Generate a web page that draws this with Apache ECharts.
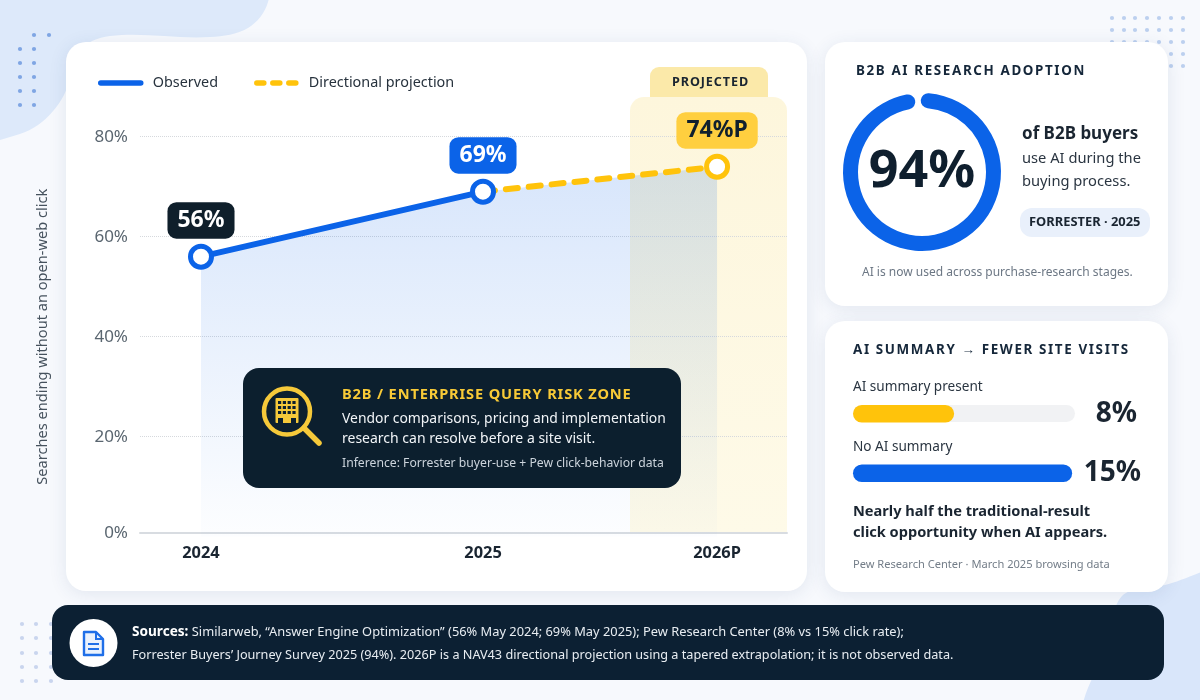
<!DOCTYPE html>
<html>
<head>
<meta charset="utf-8">
<style>html,body{margin:0;padding:0;background:#f7f9fd}#c{width:1200px;height:700px}</style>
<script src="https://cdn.jsdelivr.net/npm/echarts@6/dist/echarts.min.js"></script>
</head>
<body>
<div id="c"></div>
<script>
// ---- data ----
const tickLabels = ['2024', '2025', '2026P'];
const xPositions = [2024, 2025, 2025.83];
const observed = [56, 69, null];
const projection = [null, 69, 74];
const combined = [56, 69, 74];
const pointLabels = ['56%', '69%', '74%P'];
const adoptionValue = [94];
const barCategories = ['AI summary present', 'No AI summary'];
const barValues = [8, 15];

const FONT = '"Noto Sans", "Open Sans", sans-serif';
const BLUE = '#0b63e8', YELLOW = '#ffc30b', NAVY = '#0c1f2e', INK = '#1a2531';

// letter spacing for the tracked headings (keyed by their unique font size)
const tracking = {'13.41px': '1.62px', '12.61px': '0.9px', '14.61px': '0.86px'};
const baseFill = CanvasRenderingContext2D.prototype.fillText;
CanvasRenderingContext2D.prototype.fillText = function (t, x, y, m) {
  const k = Object.keys(tracking).find(s => this.font.indexOf(s) >= 0);
  this.letterSpacing = k ? tracking[k] : '0px';
  return m === undefined ? baseFill.call(this, t, x, y) : baseFill.call(this, t, x, y, m);
};

function T(x, y, text, size, weight, color, z, extra) {
  return {type: 'text', x, y, z: z || 6, silent: true,
    style: Object.assign({text, fontFamily: FONT, fontSize: size, fontWeight: weight, fill: color,
      textAlign: 'left', textVerticalAlign: 'middle', verticalAlign: 'middle'}, extra || {})};
}
function R(x, y, w, h, r, fill, z, extra) {
  return {type: 'rect', z: z || 0, silent: true, shape: {x, y, width: w, height: h, r},
    style: Object.assign({fill}, extra || {})};
}
function dots(xs, ys, color, skip) {
  const out = [];
  ys.forEach((y, j) => xs.forEach((x, i) => {
    if (skip && skip(i, j)) return;
    out.push({type: 'circle', z: 0, silent: true, shape: {cx: x, cy: y, r: 2.1}, style: {fill: color}});
  }));
  return out;
}
const SHADOW = {shadowBlur: 18, shadowColor: 'rgba(35,65,115,0.10)', shadowOffsetY: 3};

const graphics = [
  // background decoration
  {type: 'polygon', z: 0, silent: true, shape: {smooth: 0.35, points: [[-80,-80],[278,-80],[268,2],[248,28],[210,37],[110,36],[78,52],[64,95],[38,125],[0,140],[-80,160]]}, style: {fill: '#dde9fa'}},
  {type: 'polygon', z: 0, silent: true, shape: {smooth: 0.3, points: [[1086,720],[1104,650],[1122,596],[1165,585],[1270,560],[1270,770]]}, style: {fill: '#d9e6fa'}},
  ...dots([20,34,49], [35,49,63,77,91,105], '#7fa6e3', (i,j)=>(j===0&&i===0)||(j>0&&i===2)),
  ...dots([1112,1124,1135,1147,1159,1171,1183], [18,30,42,54,66], '#bcd0ef'),
  ...dots([22,36,51], [624,638,653,667,681], '#c9d5ee'),
  // cards
  R(66, 42, 741, 549, 20, '#ffffff', 1, SHADOW),
  R(825, 42, 343, 264, 20, '#ffffff', 1, SHADOW),
  R(825, 321, 343, 271, 20, '#ffffff', 1, SHADOW),
  R(52, 605, 1112, 75, 16, '#0c2033', 1),
  // projected band + tab
  R(650, 67, 118, 32, [9,9,0,0], '#fbe9a9', 1),
  R(630, 97, 157, 436, [14,14,0,0], {type:'linear',x:0,y:0,x2:0,y2:1,colorStops:[{offset:0,color:'#fdf6dc'},{offset:1,color:'#fefae8'}]}, 1),
  T(672, 82.5, 'PROJECTED', 12.61, 'bold', INK),
  // callout
  R(243, 368, 438, 120, 16, NAVY, 20),
  {type:'circle', z:21, silent:true, shape:{cx:287,cy:411.5,r:23}, style:{fill:'none',stroke:'#f6c93a',lineWidth:4.5}},
  {type:'line', z:21, silent:true, shape:{x1:304,y1:428,x2:319,y2:443}, style:{stroke:'#f6c93a',lineWidth:5.5,lineCap:'round'}},
  R(275.5, 398, 23, 25, 1, '#f6c93a', 21),
  ...[0,1,2,3].flatMap(i=>[0,1,2].map(j=>R(278+i*4.8, 401+j*5, 3.2, 3, 0, NAVY, 22))),
  R(278, 418, 5, 5, 0, NAVY, 22), R(291, 418, 5, 5, 0, NAVY, 22),
  T(342, 395, 'B2B / ENTERPRISE QUERY RISK ZONE', 14.61, 'bold', '#f8ca37', 22),
  T(342, 419, 'Vendor comparisons, pricing and implementation', 13.9, 'normal', '#f2f5f8', 22),
  T(342, 439.5, 'research can resolve before a site visit.', 14, 'normal', '#f2f5f8', 22),
  T(342, 463.5, 'Inference: Forrester buyer-use + Pew click-behavior data', 12.2, 'normal', '#ccd4dc', 22),
  // card 2 text
  T(856, 71, 'B2B AI RESEARCH ADOPTION', 13.41, 'bold', '#15273a'),
  T(1022, 134, 'of B2B buyers', 17, 'bold', INK),
  T(1022, 159, 'use AI during the', 14.7, 'normal', '#2a3541'),
  T(1022, 182, 'buying process.', 14.7, 'normal', '#2a3541'),
  R(1020, 208, 130, 29, 12, '#e9f0fb', 2),
  T(1029, 222.5, 'FORRESTER · 2025', 12.9, 'bold', INK),
  T(862, 272.5, 'AI is now used across purchase-research stages.', 12, 'normal', '#6c7784'),
  // card 3 text
  T(853, 350, 'AI SUMMARY → FEWER SITE VISITS', 13.41, 'bold', '#15273a'),
  R(853, 405, 222, 17, 8.5, '#f1f2f4', 2),
  T(853, 387, barCategories[0], 13.6, 'normal', '#2a3541'),
  T(853, 447, barCategories[1], 13.6, 'normal', '#2a3541'),
  T(1137, 414, barValues[0] + '%', 28, 'bold', INK, 6, {textAlign: 'right'}),
  T(1141, 473, barValues[1] + '%', 28, 'bold', INK, 6, {textAlign: 'right'}),
  T(853, 512, 'Nearly half the traditional-result', 14.6, 'bold', INK),
  T(853, 533, 'click opportunity when AI appears.', 14.6, 'bold', INK),
  T(853, 565, 'Pew Research Center · March 2025 browsing data', 11.1, 'normal', '#737d88'),
  // footer
  {type:'circle', z:2, silent:true, shape:{cx:93.5,cy:643,r:24}, style:{fill:'#ffffff'}},
  {type:'polygon', z:3, silent:true, shape:{points:[[84,632],[96,632],[103,639],[103,655],[84,655]]}, style:{fill:'#eaf2fd',stroke:'#1f6fe8',lineWidth:2.4,lineJoin:'round'}},
  {type:'polyline', z:3, silent:true, shape:{points:[[96,632],[96,639],[103,639]]}, style:{fill:'none',stroke:'#1f6fe8',lineWidth:2}},
  {type:'line', z:3, silent:true, shape:{x1:88,y1:644,x2:99,y2:644}, style:{stroke:'#1f6fe8',lineWidth:2}},
  {type:'line', z:3, silent:true, shape:{x1:88,y1:649,x2:99,y2:649}, style:{stroke:'#1f6fe8',lineWidth:2}},
  T(132, 632, '{b|Sources:} {r|Similarweb, “Answer Engine Optimization” (56% May 2024; 69% May 2025); Pew Research Center (8% vs 15% click rate);}', 13, 'normal', '#e8edf2', 6, {
    rich: {b: {fontFamily: FONT, fontSize: 13.6, fontWeight: 'bold', fill: '#ffffff'}, r: {fontFamily: FONT, fontSize: 12.85, fill: '#e8edf2'}}
  }),
  T(132, 655, 'Forrester Buyers’ Journey Survey 2025 (94%). 2026P is a NAV43 directional projection using a tapered extrapolation; it is not observed data.', 12.68, 'normal', '#e8edf2')
];

const pair = (arr) => arr.map((v, i) => [xPositions[i], v]);
const pillColors = ['#0f1f2b', BLUE, '#ffcf3f'];
const pillText = ['#ffffff', '#ffffff', '#10202e'];
function point(arr, i) {
  return {
    value: [xPositions[i], arr[i]],
    label: {show: true, formatter: pointLabels[i], position: 'top', distance: 5,
      backgroundColor: pillColors[i], color: pillText[i], borderRadius: 9,
      fontFamily: FONT, fontWeight: 'bold', fontSize: 23, lineHeight: 26.5, padding: [5, 10]}
  };
}

const option = {
  animation: false,
  backgroundColor: '#f7f9fd',
  graphic: {elements: graphics},
  legend: {
    left: 93, top: 71, itemWidth: 40, itemHeight: 5, itemGap: 36,
    data: [
      {name: 'Observed', lineStyle: {width: 5.5, cap: 'round'}},
      {name: 'Directional projection', lineStyle: {width: 5.5, cap: 'round', type: [7, 9]}}
    ],
    itemStyle: {opacity: 0},
    textStyle: {fontFamily: FONT, fontSize: 14.4, color: '#27323d', padding: [0, 0, 0, 7]}
  },
  grid: [
    {left: 140, right: 413, top: 136.7, bottom: 163.3},
    {left: 853, width: 222, top: 384, height: 119}
  ],
  xAxis: [
    {type: 'value', gridIndex: 0, z: 2, min: 2023.7837, max: 2026.078, offset: -4,
      splitLine: {show: false},
      axisLine: {show: true, onZero: false, lineStyle: {color: '#d8dce1', width: 2}},
      axisTick: {show: false},
      axisLabel: {customValues: xPositions, margin: 13, fontFamily: FONT, fontSize: 16.4, fontWeight: 'bold', color: INK,
        formatter: v => tickLabels[xPositions.indexOf(v)] || ''}},
    {type: 'value', gridIndex: 1, show: false, min: 2, max: 15.17}
  ],
  yAxis: [
    {type: 'value', gridIndex: 0, z: 2, min: 0, max: 80, interval: 20,
      name: 'Searches ending without an open-web click', nameLocation: 'middle', nameGap: 90, nameRotate: 90,
      nameTextStyle: {fontFamily: FONT, fontSize: 14.6, color: '#46525e'},
      axisLine: {show: false}, axisTick: {show: false},
      splitLine: {showMinLine: false, lineStyle: {color: '#d6d9dd', type: 'dotted', width: 1}},
      axisLabel: {formatter: v => v === 0 ? '{z|0%}' : v + '%', margin: 12, fontFamily: FONT, fontSize: 17, color: '#5a6670',
        rich: {z: {fontFamily: FONT, fontSize: 17, color: '#5a6670', padding: [0, 0, 8, 0]}}}},
    {type: 'category', gridIndex: 1, show: false, inverse: true, data: barCategories}
  ],
  series: [
    {name: 'Area', type: 'line', z: 3, xAxisIndex: 0, yAxisIndex: 0, symbol: 'none', data: pair(combined),
      lineStyle: {width: 0}, tooltip: {show: false},
      areaStyle: {color: {type:'linear',x:0,y:0,x2:0,y2:1,colorStops:[{offset:0,color:'rgba(11,99,232,0.23)'},{offset:0.5,color:'rgba(11,99,232,0.12)'},{offset:1,color:'rgba(11,99,232,0.015)'}]}}},
    {name: 'Directional projection', type: 'line', z: 4, xAxisIndex: 0, yAxisIndex: 0,
      symbol: 'circle', symbolSize: 21, showSymbol: true,
      lineStyle: {color: YELLOW, width: 6, type: [12, 11], cap: 'round'},
      itemStyle: {color: '#ffffff', borderColor: YELLOW, borderWidth: 5},
      data: [{value: [xPositions[1], projection[1]], symbol: 'none'}, point(projection, 2)]},
    {name: 'Observed', type: 'line', z: 5, xAxisIndex: 0, yAxisIndex: 0,
      symbol: 'circle', symbolSize: 21,
      lineStyle: {color: BLUE, width: 6, cap: 'round'},
      itemStyle: {color: '#ffffff', borderColor: BLUE, borderWidth: 5},
      data: [point(observed, 0), point(observed, 1)]},
    {name: 'Click rate', type: 'bar', z: 4, xAxisIndex: 1, yAxisIndex: 1, barWidth: 17.5,
      itemStyle: {borderRadius: 9},
      data: [{value: barValues[0], itemStyle: {color: YELLOW}}, {value: barValues[1], itemStyle: {color: BLUE}}]},
    {name: 'B2B AI research adoption', type: 'gauge', z: 4, center: [922, 172], radius: 79,
      startAngle: 85, endAngle: -275, min: 0, max: 98.5,
      axisLine: {show: true, lineStyle: {width: 15, color: [[1, 'rgba(0,0,0,0)']]}},
      progress: {show: true, width: 15, roundCap: true, itemStyle: {color: BLUE}},
      pointer: {show: false}, anchor: {show: false}, axisTick: {show: false}, splitLine: {show: false},
      axisLabel: {show: false}, title: {show: false},
      detail: {valueAnimation: false, formatter: '{value}%', offsetCenter: [0, 0], fontFamily: FONT, fontSize: 52, fontWeight: 'bold', color: '#0f1f2e'},
      data: adoptionValue.map(v => ({value: v}))}
  ]
};
const chart = echarts.init(document.getElementById('c'), null, {renderer: 'canvas', width: 1200, height: 700});
chart.setOption(option);
</script>
</body>
</html>
